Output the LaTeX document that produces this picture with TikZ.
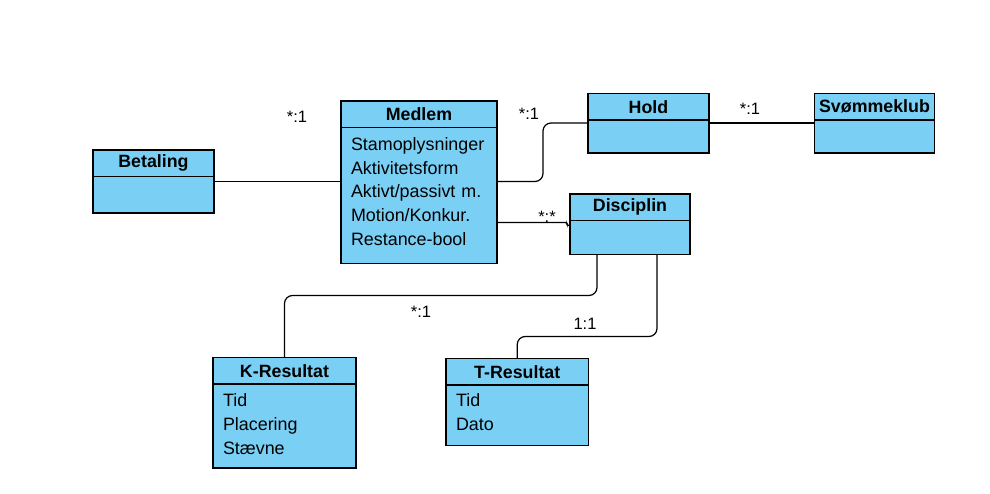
\documentclass[tikz,border=0pt]{standalone}
\usepackage{fontspec}
\setmainfont{Liberation Sans}
\usetikzlibrary{positioning}
\definecolor{klasseblaa}{HTML}{7ACFF5}

\begin{document}
\begin{tikzpicture}[x=1pt,y=-1pt,
	hoved/.style={draw, fill=klasseblaa, line width=1.2pt, outer sep=0pt, anchor=north west, minimum width=#1, minimum height=26.5pt, inner sep=0pt, font=\fontsize{17.8}{21}\selectfont\bfseries},
	felt/.style 2 args={draw, fill=klasseblaa, line width=1.2pt, outer sep=0pt, text width=#1, minimum height=#2, inner xsep=10pt, inner ysep=0pt, align=left, font=\fontsize{17.9}{23.8}\selectfont},
	forbindelse/.style={draw, line width=1.2pt, rounded corners=8pt},
	kard/.style={anchor=base, inner sep=0pt, font=\fontsize{16.5}{20}\selectfont}]
	\useasboundingbox (0,0) rectangle (990,494);

	% klasser
	\node [hoved=156pt] (medlem) at (341,101) {Medlem};
	\node [felt={136pt}{136pt}, below=0pt of medlem] (medlemattr) {Stamoplysninger\\Aktivitetsform\\Aktivt/passivt m.\\Motion/Konkur.\\Restance-bool\rule[-8pt]{0pt}{8pt}};
	\node [hoved=121pt] (betaling) at (93,150) {Betaling};
	\node [felt={101pt}{36.5pt}, below=0pt of betaling] (betalingattr) {};
	\node [hoved=121pt] (hold) at (588,93.5) {Hold};
	\node [felt={101pt}{33pt}, below=0pt of hold] (holdattr) {};
	\node [hoved=120pt] (klub) at (814.5,93.5) {Svømmeklub};
	\node [felt={100pt}{33pt}, below=0pt of klub] (klubattr) {};
	\node [hoved=120pt] (disciplin) at (570,194) {Disciplin};
	\node [felt={100pt}{34pt}, below=0pt of disciplin] (disciplinattr) {};
	\node [hoved=143pt] (kresultat) at (213,357.5) {K-Resultat};
	\node [felt={123pt}{84pt}, below=0pt of kresultat] (kresultatattr) {Tid\\Placering\\Stævne\rule[-4pt]{0pt}{4pt}};
	\node [hoved=142.5pt] (tresultat) at (446,358.5) {T-Resultat};
	\node [felt={122.5pt}{60.5pt}, below=0pt of tresultat] (tresultatattr) {Tid\\Dato\rule[-6pt]{0pt}{6pt}};

	% forbindelser
	\draw [forbindelse] ([yshift=13pt]betalingattr.east) -- ([yshift=13pt]betalingattr.east -| medlemattr.west);
	\draw [forbindelse] ([yshift=14pt]medlemattr.east) -- ++(46,0) |- ([yshift=13.5pt]holdattr.west);
	\draw [forbindelse] ([yshift=13.5pt]holdattr.east) -- ([yshift=13.5pt]holdattr.east -| klubattr.west);
	\draw [forbindelse, rounded corners=2pt] ([yshift=-27pt]medlemattr.east) -- ++(70,0) |- ([yshift=12pt]disciplinattr.west);
	\draw [forbindelse] ([xshift=-33pt]disciplinattr.south) -- ++(0,41) -| (kresultat.north);
	\draw [forbindelse] ([xshift=27pt]disciplinattr.south) -- ++(0,82) -| (tresultat.north);

	% kardinaliteter
	\node [kard] (k1) at (297,122.5) {*:1};
	\node [kard] (k2) at (529,120) {*:1};
	\node [kard] (k3) at (750,115) {*:1};
	\node [kard] (k4) at (547,223) {*:*};
	\node [kard] (k5) at (421,317.5) {*:1};
	\node [kard] (k6) at (585,329) {1:1};
\end{tikzpicture}
\end{document}
